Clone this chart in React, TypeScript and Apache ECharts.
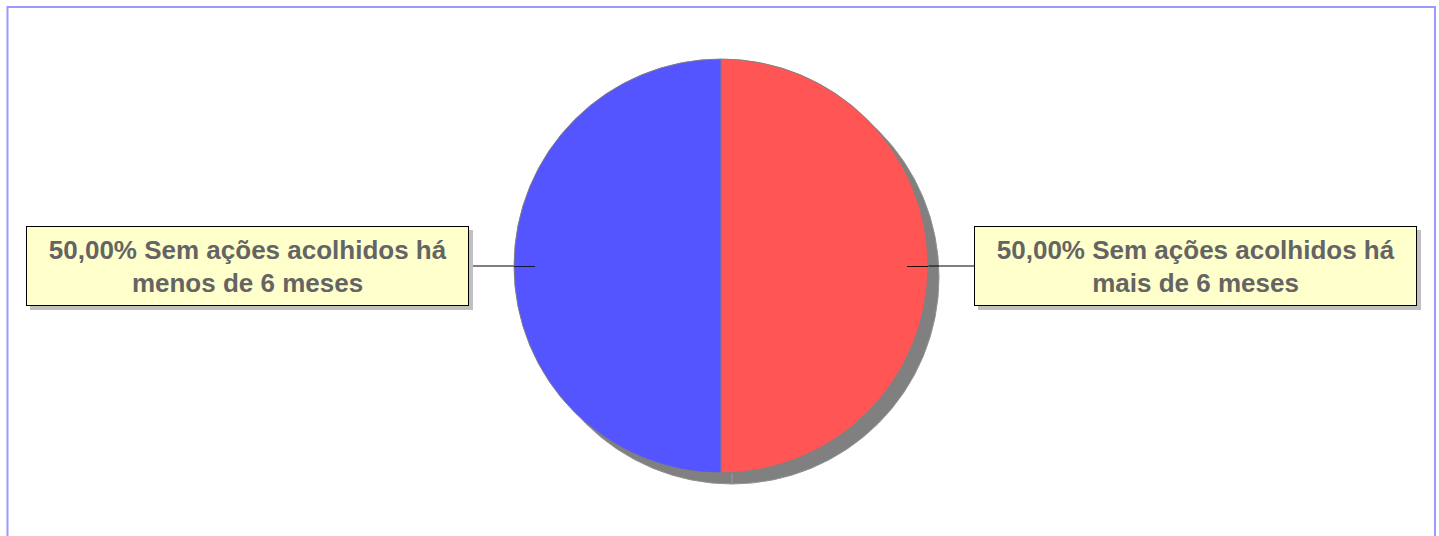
import React, { useEffect, useRef } from "react";
import * as echarts from "echarts";

const categories = ["Sem ações acolhidos há\nmais de 6 meses", "Sem ações acolhidos há\nmenos de 6 meses"];
const values = [50, 50];
const colors = ["#ff5555", "#5555ff"];

export default function App() {
  const ref = useRef<HTMLDivElement>(null);
  useEffect(() => {
    if (!ref.current) return;
    const chart = echarts.init(ref.current, null, { renderer: "svg" });
    const cx = 721, cy = 266, r = 207;
    const data = categories.map((name, i) => ({ name, value: values[i], itemStyle: { color: colors[i] } }));
    chart.setOption({
      animation: false,
      backgroundColor: "#ffffff",
      graphic: [
        {
          type: "rect",
          shape: { x: 7.5, y: 7, width: 1427.5, height: 600 },
          style: { fill: "none", stroke: "#9999ff", lineWidth: 2 },
          silent: true,
          z: 0,
        },
        {
          type: "line",
          shape: { x1: cx - r, y1: cy + 0.5, x2: cx - r + 21, y2: cy + 0.5 },
          style: { stroke: "#000000", lineWidth: 1, opacity: 0.75 },
          silent: true,
          z: 10,
        },
        {
          type: "line",
          shape: { x1: cx + r - 21, y1: cy + 0.5, x2: cx + r, y2: cy + 0.5 },
          style: { stroke: "#000000", lineWidth: 1, opacity: 0.85 },
          silent: true,
          z: 10,
        },
      ],
      series: [
        {
          type: "pie",
          silent: true,
          center: [cx + 11, cy + 11],
          radius: r,
          startAngle: 90,
          label: { show: false },
          labelLine: { show: false },
          itemStyle: { color: "#808080", borderColor: "#939393", borderWidth: 1 },
          data: categories.map((name, i) => ({ name, value: values[i] })),
          z: 1,
        },
        {
          type: "pie",
          center: [cx, cy],
          radius: r,
          startAngle: 90,
          z: 2,
          itemStyle: { borderColor: "#808080", borderWidth: 1 },
          label: {
            show: true,
            position: "outside",
            formatter: (p: any) => p.percent.toFixed(2).replace(".", ",") + "% " + p.name,
            fontFamily: "Liberation Sans, Arial, sans-serif",
            fontWeight: "bold",
            fontSize: 26,
            lineHeight: 33,
            color: "#646464",
            align: "center",
            backgroundColor: "#ffffcc",
            borderColor: "#000000",
            borderWidth: 1,
            padding: [6, 17],
            width: 407,
            shadowColor: "#c0c0c0",
            shadowOffsetX: 4,
            shadowOffsetY: 4,
            shadowBlur: 0,
          },
          labelLine: { show: true, lineStyle: { color: "#000000", width: 1 } },
          labelLayout: (params: any) => {
            const right = params.dataIndex === 0;
            return {
              x: right ? 1195.5 : 247.5,
              y: 266,
              align: "center",
              verticalAlign: "middle",
            };
          },
          data,
        },
      ],
    });
    return () => chart.dispose();
  }, []);
  return (
    <div
      ref={ref}
      style={{ position: "fixed", left: 0, top: 0, width: 1439, height: 536 }}
    />
  );
}
